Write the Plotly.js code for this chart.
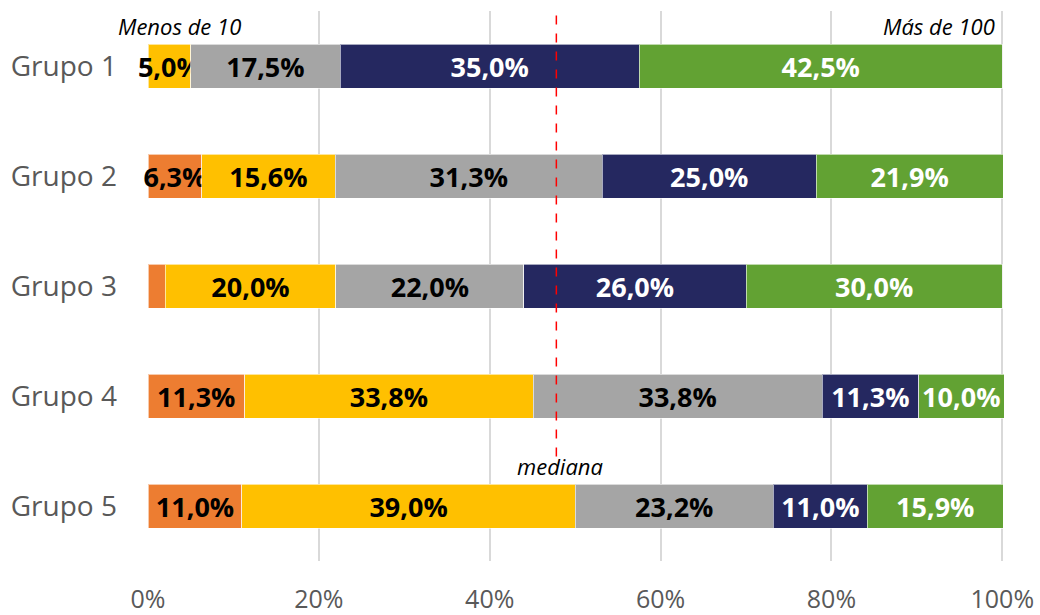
<!DOCTYPE html>
<html>
<head>
<meta charset="utf-8">
<script src="https://cdn.plot.ly/plotly-3.0.1.min.js"></script>
<style>html,body{margin:0;padding:0;background:#fff;}#chart{width:1040px;height:615px;}</style>
</head>
<body>
<div id="chart"></div>
<script>
const groups = ["Grupo 1", "Grupo 2", "Grupo 3", "Grupo 4", "Grupo 5"];
const seriesNames = ["Menos de 10", "10 a 25", "25 a 50", "50 a 100", "Más de 100"];
const seriesOrange = [0.0, 6.3, 2.0, 11.3, 11.0];
const seriesYellow = [5.0, 15.6, 20.0, 33.8, 39.0];
const seriesGray   = [17.5, 31.3, 22.0, 33.8, 23.2];
const seriesNavy   = [35.0, 25.0, 26.0, 11.3, 11.0];
const seriesGreen  = [42.5, 21.9, 30.0, 10.0, 15.9];
const medianValue = 47.8;
const xTicks = [0, 20, 40, 60, 80, 100];

const colors = ["#ED7D31", "#FFC000", "#A5A5A5", "#252860", "#62A233"];
const textColors = ["#000000", "#000000", "#000000", "#FFFFFF", "#FFFFFF"];
const allSeries = [seriesOrange, seriesYellow, seriesGray, seriesNavy, seriesGreen];

function fmt(v) { return v >= 3 ? v.toFixed(1).replace('.', ',') + '%' : ''; }

const traces = allSeries.map((vals, i) => ({
  type: 'bar',
  orientation: 'h',
  name: seriesNames[i],
  y: groups,
  x: vals,
  text: vals.map(fmt),
  textposition: 'inside',
  insidetextanchor: 'middle',
  constraintext: 'none',
  textangle: 0,
  textfont: { family: 'Open Sans', size: 27, color: textColors[i], weight: 700 },
  marker: { color: colors[i], line: { color: 'rgba(255,255,255,0.6)', width: 1 } },
  hoverinfo: 'none',
  cliponaxis: false
}));

const layout = {
  width: 1040,
  height: 615,
  margin: { l: 148, r: 36, t: 11, b: 54 },
  paper_bgcolor: '#ffffff',
  plot_bgcolor: '#ffffff',
  font: { family: 'Open Sans', color: '#595959' },
  barmode: 'stack',
  bargap: 0.6,
  showlegend: false,
  xaxis: {
    range: [0, 100.2],
    tickvals: xTicks,
    ticktext: xTicks.map(v => v + '%'),
    showgrid: true,
    gridcolor: '#D9D9D9',
    gridwidth: 2,
    zeroline: false,
    showline: false,
    ticks: '',
    ticklabelstandoff: 21,
    tickfont: { family: 'Open Sans', size: 25, color: '#595959' },
    automargin: false,
    fixedrange: true
  },
  yaxis: {
    autorange: 'reversed',
    showgrid: false,
    zeroline: false,
    showline: false,
    ticks: '',
    ticklabelstandoff: 30,
    tickfont: { family: 'Open Sans', size: 28, color: '#595959' },
    automargin: false,
    fixedrange: true
  },
  shapes: [{
    type: 'line',
    xref: 'x', yref: 'paper',
    x0: medianValue, x1: medianValue,
    y0: 0.19, y1: 1.0,
    line: { color: '#FF0000', width: 1.5, dash: 'dash' }
  }],
  annotations: [
    {
      xref: 'x', yref: 'paper', x: 0, y: 0.973,
      xanchor: 'left', yanchor: 'middle', xshift: -32,
      text: '<i>' + seriesNames[0] + '</i>', showarrow: false,
      font: { family: 'Open Sans', size: 22, color: '#000000' }
    },
    {
      xref: 'x', yref: 'paper', x: 100, y: 0.973,
      xanchor: 'right', yanchor: 'middle', xshift: -5,
      text: '<i>' + seriesNames[4] + '</i>', showarrow: false,
      font: { family: 'Open Sans', size: 22, color: '#000000' }
    },
    {
      xref: 'x', yref: 'paper', x: medianValue, y: 0.173,
      xanchor: 'center', yanchor: 'middle', xshift: 4,
      text: '<i>mediana</i>', showarrow: false,
      font: { family: 'Open Sans', size: 22, color: '#000000' }
    }
  ]
};

Plotly.newPlot('chart', traces, layout, { staticPlot: true, displayModeBar: false });
</script>
</body>
</html>
